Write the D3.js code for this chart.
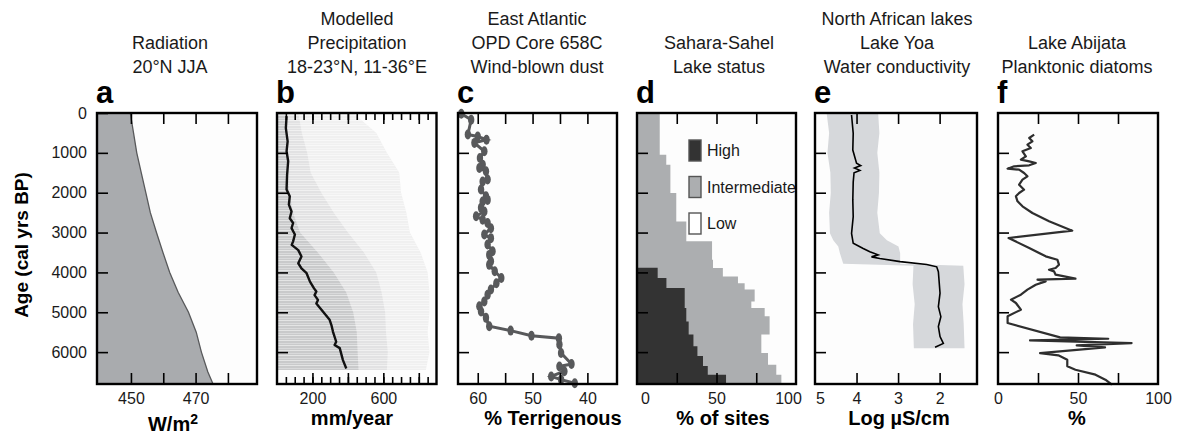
<!DOCTYPE html>
<html>
<head>
<meta charset="utf-8">
<script src="https://cdn.jsdelivr.net/npm/d3@7"></script>
<style>
  body { margin: 0; background: #fff; }
</style>
</head>
<body>
<svg id="chart" width="1177" height="436"></svg>
<script>

// ---- shared age axis ----
var ageDomain = [0, 6800];
var ageTicks = [1000, 2000, 3000, 4000, 5000, 6000];
var ageLabels = [0, 1000, 2000, 3000, 4000, 5000, 6000];

// ---- a: radiation 20N JJA (W/m2) ----
var radAge = [0, 500, 1000, 1500, 2000, 2500, 3000, 3500, 4000, 4500, 5000, 5500, 6000, 6500, 6800];
var radVal = [449.8, 450.8, 451.8, 453.2, 454.6, 456.0, 457.9, 459.9, 462.0, 464.6, 467.8, 470.2, 471.8, 473.8, 475.4];

// ---- b: modelled precipitation (mm/year) ----
var precAge = [80, 380, 710, 960, 1210, 1550, 1920, 2090, 2300, 2470, 2640, 2760, 2890, 3050, 3220, 3310, 3440, 3600, 3770, 3900, 4020, 4230, 4400, 4480, 4570, 4690, 4780, 4990, 5190, 5320, 5490, 5740, 5820, 5900, 6200, 6410];
var precVal = [54, 50, 60, 54, 63, 57, 54, 72, 67, 82, 72, 91, 82, 101, 91, 83, 120, 138, 120, 138, 167, 186, 209, 222, 212, 231, 222, 260, 297, 307, 316, 334, 325, 354, 372, 391];
var spreadAge = [0, 500, 1000, 1500, 2000, 2500, 3000, 3500, 4000, 4500, 5000, 5500, 6000, 6450];
var spreadDense = [45, 50, 55, 60, 70, 90, 130, 230, 320, 390, 430, 450, 455, 460];
var spreadMid = [120, 140, 170, 190, 250, 320, 400, 490, 560, 590, 610, 615, 625, 620];
var spreadLight = [430, 560, 620, 690, 700, 730, 750, 810, 850, 860, 860, 850, 860, 840];

// ---- c: ODP 658C terrigenous % ----
var dustAge = [20, 170, 540, 590, 670, 750, 960, 1130, 1300, 1380, 1460, 1670, 1720, 1920, 2090, 2180, 2220, 2380, 2470, 2590, 2680, 2760, 2890, 3050, 3140, 3300, 3470, 3560, 3720, 3810, 3970, 4140, 4270, 4430, 4560, 4730, 4850, 4980, 5140, 5350, 5460, 5590, 5650, 5810, 6020, 6300, 6360, 6480, 6610, 6690, 6780];
var dustVal = [63.0, 61.2, 61.8, 60.0, 58.4, 60.6, 58.8, 59.6, 59.1, 59.7, 58.5, 58.2, 59.1, 59.4, 58.5, 58.2, 59.1, 59.4, 58.8, 60.3, 59.1, 58.2, 57.6, 58.8, 57.6, 58.2, 57.3, 57.9, 57.6, 57.9, 56.9, 55.7, 56.6, 57.6, 58.2, 58.8, 59.7, 59.4, 58.5, 57.9, 54.0, 50.2, 45.2, 45.1, 44.8, 42.9, 45.1, 44.2, 46.6, 44.8, 42.3];

// ---- d: lake status (% of sites), step bins ----
var highAge = [3880, 4140, 4390, 4890, 5230, 5560, 5850, 6100, 6350, 6570];
var highVal = [13, 18.5, 30, 31, 32.5, 35.5, 38, 41.5, 44.5, 56];
var interAge = [0, 1050, 1300, 2010, 2720, 3220, 3680, 3890, 4100, 4270, 4430, 4730, 4890, 5100, 5560, 6020, 6320, 6570];
var interTop = [14.3, 18.4, 21, 24.7, 31, 47.2, 47.8, 54, 63.5, 67.7, 74, 71.9, 80.3, 83.4, 78.2, 82.4, 87.6, 90.8];
var legendLabels = ["High", "Intermediate", "Low"];

// ---- e: Lake Yoa conductivity (log uS/cm) ----
var condAge = [50, 510, 930, 1260, 1320, 1380, 1440, 1500, 1730, 2180, 2600, 3020, 3270, 3400, 3480, 3560, 3610, 3650, 3730, 3800, 3860, 3980, 4520, 4860, 5110, 5360, 5610, 5780, 5880];
var condVal = [4.12, 4.08, 4.09, 4.0, 3.9, 4.05, 3.92, 4.06, 4.08, 4.09, 4.08, 4.12, 4.08, 3.84, 3.68, 3.48, 3.64, 3.44, 2.95, 2.31, 2.07, 2.03, 1.99, 2.03, 1.97, 2.03, 1.99, 1.91, 2.11];
var bandAge = [0, 500, 1000, 1500, 2000, 2500, 3020, 3190, 3350, 3520, 3780, 3830, 4300, 4800, 5300, 5900];
var bandLo = [4.72, 4.66, 4.70, 4.63, 4.62, 4.66, 4.64, 4.56, 4.44, 4.40, 4.32, 2.63, 2.65, 2.60, 2.64, 2.62];
var bandHi = [3.48, 3.45, 3.50, 3.45, 3.46, 3.50, 3.44, 3.27, 2.99, 2.95, 2.95, 1.43, 1.40, 1.45, 1.42, 1.40];

// ---- f: Lake Abijata planktonic diatoms (%) ----
var diaAge = [544, 627, 711, 795, 878, 962, 1087, 1171, 1213, 1255, 1313, 1338, 1397, 1422, 1506, 1589, 1673, 1799, 1924, 2008, 2091, 2216, 2342, 2509, 2718, 2953, 3137, 3388, 3597, 3681, 3806, 3890, 3932, 3973, 4057, 4157, 4182, 4224, 4308, 4433, 4559, 4684, 4768, 4935, 5102, 5270, 5630, 5664, 5706, 5772, 5831, 5881, 6023, 6081, 6190, 6357, 6441, 6566, 6691, 6818];
var diaVal = [22.6, 19.5, 21.5, 18.4, 20.5, 15.3, 17.4, 14.3, 19.5, 23.6, 19.5, 10.1, 6.0, 13.2, 16.3, 18.4, 15.3, 13.2, 16.3, 13.2, 11.2, 12.2, 15.3, 21.5, 31.9, 46.4, 6.6, 19.5, 29.8, 37.1, 38.1, 36.0, 31.9, 35.0, 36.0, 48.4, 24.7, 29.8, 23.6, 18.4, 14.3, 8.1, 11.2, 14.3, 6.0, 6.0, 38.8, 68.9, 20.0, 83.5, 49.2, 66.9, 26.3, 37.7, 43.3, 43.3, 48.4, 60.9, 67.1, 71.2];

// ---- texts ----
var titles = [
  ["Radiation", "20°N JJA"],
  ["Modelled", "Precipitation", "18-23°N, 11-36°E"],
  ["East Atlantic", "OPD Core 658C", "Wind-blown dust"],
  ["Sahara-Sahel", "Lake status"],
  ["North African lakes", "Lake Yoa", "Water conductivity"],
  ["Lake Abijata", "Planktonic diatoms"]
];
var letters = ["a", "b", "c", "d", "e", "f"];
var axisTitles = ["W/m", "mm/year", "% Terrigenous", "% of sites", "Log µS/cm", "%"];
var yTitle = "Age (cal yrs BP)";

var FONT = '"Liberation Sans", Arial, Helvetica, sans-serif';
var yTop = 113, yBot = 384;
var svg = d3.select("#chart");

var y = d3.scaleLinear().domain(ageDomain).range([yTop, yBot]);

var panels = [
  { x0: 97,  x1: 257, domain: [439.5, 489], ticks: [450, 460, 470, 480], labels: [450, 470], tx: 170, ax: 173 },
  { x0: 277, x1: 436.5, domain: [0, 900], ticks: [200, 400, 600, 800], minor: d3.range(50, 900, 50), labels: [200, 600], tx: 357, ax: 352 },
  { x0: 458, x1: 617, domain: [63.6, 34.6], ticks: [60, 55, 50, 45, 40], labels: [60, 50, 40], tx: 537, ax: 553 },
  { x0: 637, x1: 796, domain: [0, 100], ticks: [25, 50, 75], labels: [0, 50, 100], shift: { 0: 8, 100: -8 }, tx: 719, ax: 723 },
  { x0: 815, x1: 977, domain: [5, 1.1], ticks: [4, 3, 2], labels: [5, 4, 3, 2], shift: { 5: 5 }, tx: 897, ax: 899 },
  { x0: 998, x1: 1158, domain: [0, 100], ticks: [25, 50, 75], labels: [0, 50, 100], tx: 1077, ax: 1077 }
];

var defs = svg.append("defs");
var pat = defs.append("pattern").attr("id", "streaks")
  .attr("patternUnits", "userSpaceOnUse").attr("width", 40).attr("height", 5);
pat.append("rect").attr("width", 40).attr("height", 1).attr("fill", "#fff").attr("opacity", 0.5);
pat.append("rect").attr("y", 3).attr("width", 40).attr("height", 1).attr("fill", "#fff").attr("opacity", 0.3);

panels.forEach(function(p, i) {
  p.x = d3.scaleLinear().domain(p.domain).range([p.x0, p.x1]);
  p.g = svg.append("g");
  p.g.append("rect").attr("x", p.x0).attr("y", yTop)
    .attr("width", p.x1 - p.x0).attr("height", yBot - yTop).attr("fill", "#fdfdfd");
});

function zip(ages, vals) {
  return ages.map(function(a, i) { return { age: a, v: vals[i] }; });
}

// a
(function() {
  var p = panels[0], x = p.x, data = zip(radAge, radVal);
  p.g.append("path").datum(data)
    .attr("d", d3.area().y(function(d) { return y(d.age); }).x0(p.x0).x1(function(d) { return x(d.v); }))
    .attr("fill", "#a9abae");
  p.g.append("path").datum(data)
    .attr("d", d3.line().y(function(d) { return y(d.age); }).x(function(d) { return x(d.v); }))
    .attr("fill", "none").attr("stroke", "#58595b").attr("stroke-width", 1.3);
})();

// b
(function() {
  var p = panels[1], x = p.x;
  var bands = [[spreadLight, "#f0f0f0"], [spreadMid, "#e2e2e3"], [spreadDense, "#c9cacb"]];
  bands.forEach(function(b) {
    p.g.append("path").datum(zip(spreadAge, b[0]))
      .attr("d", d3.area().y(function(d) { return y(d.age); }).x0(p.x0).x1(function(d) { return x(d.v); }))
      .attr("fill", b[1]);
  });
  p.g.append("path").datum(zip(spreadAge, spreadLight))
    .attr("d", d3.area().y(function(d) { return y(d.age); }).x0(p.x0).x1(function(d) { return x(d.v); }))
    .attr("fill", "url(#streaks)");
  p.g.append("path").datum(zip(precAge, precVal))
    .attr("d", d3.line().y(function(d) { return y(d.age); }).x(function(d) { return x(d.v); }))
    .attr("fill", "none").attr("stroke", "#111").attr("stroke-width", 2.4).attr("stroke-linejoin", "round");
})();

// c
(function() {
  var p = panels[2], x = p.x, data = zip(dustAge, dustVal);
  p.g.append("path").datum(data)
    .attr("d", d3.line().y(function(d) { return y(d.age); }).x(function(d) { return x(d.v); }))
    .attr("fill", "none").attr("stroke", "#58595b").attr("stroke-width", 3);
  p.g.selectAll("ellipse").data(data).enter().append("ellipse")
    .attr("cx", function(d) { return x(d.v); }).attr("cy", function(d) { return y(d.age); })
    .attr("rx", 3.2).attr("ry", 5).attr("fill", "#58595b");
})();

// d
(function() {
  var p = panels[3], x = p.x;
  function stepData(ages, vals) {
    var d = zip(ages, vals);
    d.push({ age: ageDomain[1], v: vals[vals.length - 1] });
    return d;
  }
  var area = d3.area().curve(d3.curveStepBefore)
    .y(function(d) { return y(d.age); }).x0(p.x0).x1(function(d) { return x(d.v); });
  p.g.append("path").datum(stepData(interAge, interTop)).attr("d", area).attr("fill", "#acaeb0");
  p.g.append("path").datum(stepData(highAge, highVal)).attr("d", area).attr("fill", "#333333");

  var fills = ["#333333", "#acaeb0", "#ffffff"];
  var lg = p.g.append("g");
  legendLabels.forEach(function(t, i) {
    var yy = 140 + i * 36.5;
    lg.append("rect").attr("x", 689).attr("y", yy).attr("width", 12).attr("height", 21)
      .attr("fill", fills[i]).attr("stroke", "#555").attr("stroke-width", 1.4);
    lg.append("text").attr("x", 707).attr("y", yy + 16).text(t)
      .attr("font-family", FONT).attr("font-size", 16).attr("fill", "#1a1a1a");
  });
})();

// e
(function() {
  var p = panels[4], x = p.x;
  var band = bandAge.map(function(a, i) { return { age: a, lo: bandLo[i], hi: bandHi[i] }; });
  p.g.append("path").datum(band)
    .attr("d", d3.area().y(function(d) { return y(d.age); })
      .x0(function(d) { return x(d.lo); }).x1(function(d) { return x(d.hi); }))
    .attr("fill", "#d6d8db");
  p.g.append("path").datum(zip(condAge, condVal))
    .attr("d", d3.line().y(function(d) { return y(d.age); }).x(function(d) { return x(d.v); }))
    .attr("fill", "none").attr("stroke", "#000").attr("stroke-width", 1.6);
})();

// f
(function() {
  var p = panels[5], x = p.x;
  p.g.append("path").datum(zip(diaAge, diaVal))
    .attr("d", d3.line().y(function(d) { return y(d.age); }).x(function(d) { return x(d.v); }))
    .attr("fill", "none").attr("stroke", "#2e2e2e").attr("stroke-width", 2.2).attr("stroke-linejoin", "round");
})();

// frames, axes, texts
function styleAxis(sel, p) {
  sel.attr("font-family", FONT).attr("font-size", 16);
  sel.select(".domain").remove();
  sel.selectAll(".tick line").attr("stroke", "#000").attr("stroke-width", 1.6);
  sel.selectAll(".tick text").attr("fill", "#1a1a1a")
    .attr("dx", function(d) { return (p && p.shift && p.shift[d]) || 0; });
}

panels.forEach(function(p, i) {
  var g = svg.append("g");
  g.append("rect").attr("x", p.x0).attr("y", yTop)
    .attr("width", p.x1 - p.x0).attr("height", yBot - yTop)
    .attr("fill", "none").attr("stroke", "#000").attr("stroke-width", 2.4);

  var lab = function(d) { return p.labels.indexOf(d) >= 0 ? String(d) : ""; };

  if (p.minor) {
    g.append("g").attr("transform", "translate(0," + yTop + ")")
      .call(d3.axisTop(p.x).tickValues(p.minor).tickSize(-7).tickFormat(""))
      .call(styleAxis);
    g.append("g").attr("transform", "translate(0," + yBot + ")")
      .call(d3.axisBottom(p.x).tickValues(p.minor).tickSize(-7).tickFormat(""))
      .call(styleAxis);
  }
  g.append("g").attr("transform", "translate(0," + yTop + ")")
    .call(d3.axisTop(p.x).tickValues(p.ticks).tickSize(-11).tickFormat(""))
    .call(styleAxis);
  g.append("g").attr("transform", "translate(0," + yBot + ")")
    .call(d3.axisBottom(p.x).tickValues(p.ticks).tickSize(-11).tickFormat(""))
    .call(styleAxis);
  g.append("g").attr("transform", "translate(0," + yBot + ")")
    .call(d3.axisBottom(p.x).tickValues(p.labels).tickSize(0).tickPadding(9).tickFormat(lab))
    .call(styleAxis, p);

  var ya = d3.axisLeft(y).tickSize(-11);
  if (i === 0) ya.tickValues(ageLabels).tickPadding(10).tickFormat(d3.format("d"));
  else ya.tickValues(ageTicks).tickFormat("");
  g.append("g").attr("transform", "translate(" + p.x0 + ",0)").call(ya).call(styleAxis);

  // title lines, bottom aligned
  var lines = titles[i];
  lines.forEach(function(t, k) {
    g.append("text").attr("x", p.tx).attr("y", 73 - (lines.length - 1 - k) * 24)
      .attr("text-anchor", "middle").attr("font-family", FONT).attr("font-size", 18)
      .attr("fill", "#1a1a1a").text(t);
  });

  g.append("text").attr("x", p.x0 - 1).attr("y", 103).text(letters[i])
    .attr("font-family", FONT).attr("font-size", 31).attr("font-weight", "bold").attr("fill", "#000");

  var at = g.append("text").attr("x", p.ax).attr("y", i === 0 ? 431 : 425)
    .attr("text-anchor", "middle").attr("font-family", FONT).attr("font-size", 20)
    .attr("font-weight", "bold").attr("fill", "#000").text(axisTitles[i]);
  if (i === 0) at.append("tspan").attr("dy", -7).attr("font-size", 14).text("2");
});

svg.append("text").attr("transform", "translate(28,245) rotate(-90)")
  .attr("text-anchor", "middle").attr("font-family", FONT).attr("font-size", 19)
  .attr("font-weight", "bold").attr("fill", "#000").text(yTitle);

</script>
</body>
</html>
